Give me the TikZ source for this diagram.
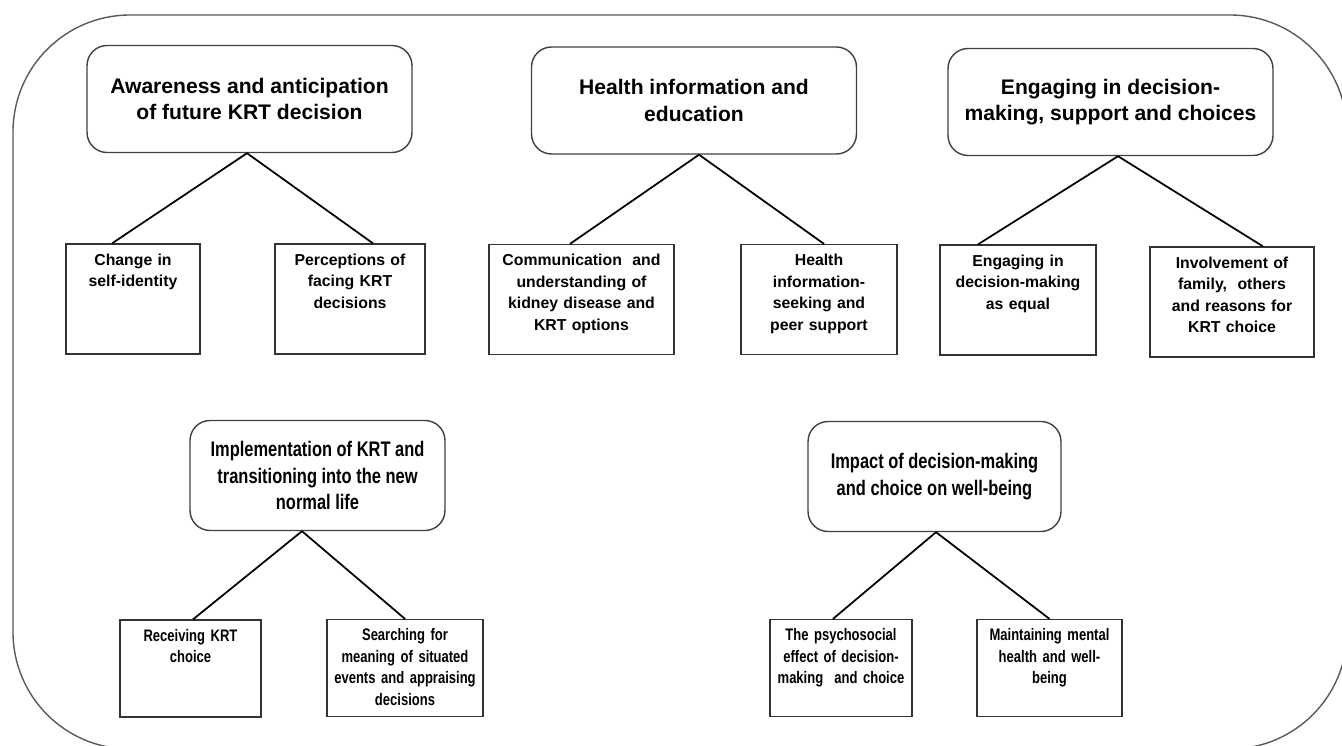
\documentclass[tikz,border=0pt]{standalone}
\usepackage{fontspec}
\setmainfont{Liberation Sans}
\newfontfamily\narrowfont[FakeStretch=0.78]{Liberation Sans}
\usetikzlibrary{calc}

\begin{document}
\begin{tikzpicture}[
    x=0.02cm, y=-0.02cm, % one unit per pixel, y grows downwards
    themebox/.style={rectangle, draw=black!75, line width=0.8pt, rounded corners=0.4cm, minimum width=6.5cm, minimum height=2.14cm, align=center, font=\bfseries\fontsize{12}{15}\selectfont},
    lowthemebox/.style={themebox, minimum width=5.1cm, minimum height=2.2cm, font=\narrowfont\bfseries\fontsize{12}{15}\selectfont},
    subbox/.style={rectangle, draw=black!80, line width=0.7pt, inner xsep=0pt, inner ysep=5pt, align=center, text height=7pt, text depth=45.6pt, font=\bfseries\fontsize{9}{12.3}\selectfont},
    lowsubbox/.style={subbox, text depth=38.2pt, font=\narrowfont\bfseries\fontsize{9.5}{12.3}\selectfont},
    link/.style={line width=1pt, black}
]
\useasboundingbox (0,0) rectangle (1342,746);

% outer frame, runs off the right and bottom edges
\begin{scope}
    \clip (0,0) rectangle (1342,746);
    \draw[black!65, line width=0.8pt, rounded corners=2.34cm] (13,15) rectangle (1347,749);
\end{scope}

% Main themes
\node[themebox] (awareness) at (249.5,99) {Awareness and anticipation\\of future KRT decision};
\node[themebox] (healthinfo) at (694,100.5) {Health information and\\education};
\node[themebox] (engaging) at (1110.5,102) {Engaging in decision-\\making, support and choices};
\node[lowthemebox] (implementation) at (317.5,475.5) {Implementation of KRT and\\transitioning into the new\\normal life};
\node[lowthemebox, minimum width=5.06cm] (impact) at (934.5,476.5) {Impact of decision-making\\and choice on well-being};

% Subthemes, top row
\node[subbox, text width=2.68cm] (identity) at (133,299) {Change in\\self-identity};
\node[subbox, text width=3cm] (perceptions) at (350,299) {Perceptions of\\facing KRT\\decisions};
\node[subbox, text width=3.7cm] (communication) at (581.5,299.5) {Communication\ \ and\\understanding of\\kidney disease and\\KRT options};
\node[subbox, text width=3.12cm] (seeking) at (819,299.5) {Health\\information-\\seeking and\\peer support};
\node[subbox, text width=3.12cm] (equal) at (1018,300) {Engaging in\\decision-making\\as equal};
\node[subbox, text width=3.28cm] (family) at (1232,302) {Involvement of\\family,\ \ others\\and reasons for\\KRT choice};

% Subthemes, bottom row
\node[lowsubbox, text width=2.82cm] (receiving) at (190.5,668.5) {Receiving KRT\\choice};
\node[lowsubbox, text width=3.12cm] (meaning) at (405,668) {Searching for\\meaning of situated\\events and appraising\\decisions};
\node[lowsubbox, text width=2.84cm] (psychosocial) at (841,668) {The psychosocial\\effect of decision-\\making\ \ and choice};
\node[lowsubbox, text width=2.9cm] (mental) at (1049.5,668) {Maintaining mental\\health and well-\\being};

% Links
\draw[link] ($(awareness.south)+(-2.5,0)$) -- ($(identity.north)+(-21,0)$);
\draw[link] ($(awareness.south)+(-2.5,0)$) -- ($(perceptions.north)+(23,0)$);
\draw[link] ($(healthinfo.south)+(5,0)$) -- ($(communication.north)+(-11.5,0)$);
\draw[link] ($(healthinfo.south)+(5,0)$) -- ($(seeking.north)+(5,0)$);
\draw[link] ($(engaging.south)+(7.5,0)$) -- ($(equal.north)+(-40,0)$);
\draw[link] ($(engaging.south)+(7.5,0)$) -- ($(family.north)+(31,0)$);
\draw[link] ($(implementation.south)+(-15.5,0)$) -- ($(receiving.north)+(2.5,0)$);
\draw[link] ($(implementation.south)+(-15.5,0)$) -- (meaning.north);
\draw[link] ($(impact.south)+(1.5,0)$) -- ($(psychosocial.north)+(-8,0)$);
\draw[link] ($(impact.south)+(1.5,0)$) -- (mental.north);

\end{tikzpicture}
\end{document}
